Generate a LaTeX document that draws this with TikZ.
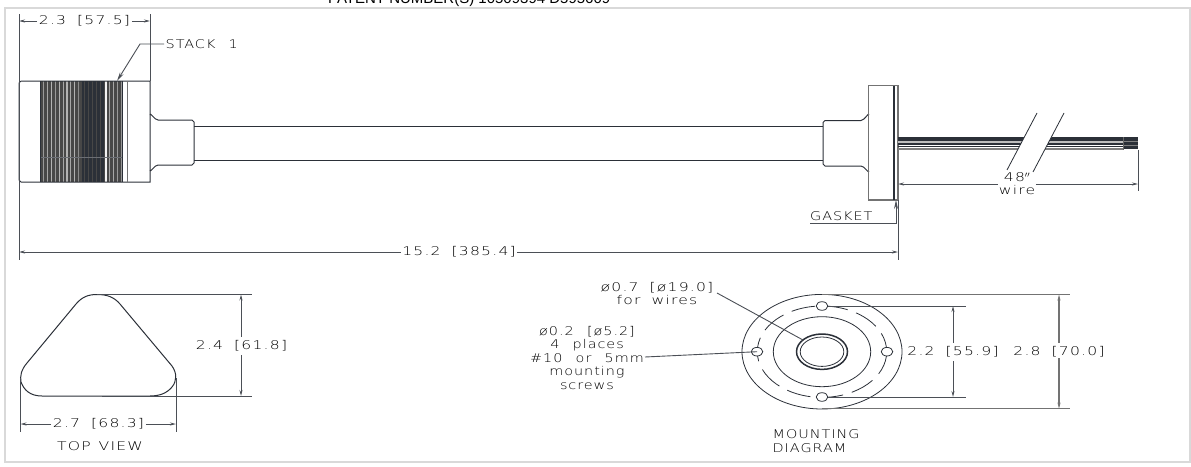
\documentclass[tikz,border=0pt]{standalone}
\usepackage{fontspec}
\setmainfont{Liberation Sans}
\newfontfamily\cadfont[FakeStretch=1.2,LetterSpace=8,WordSpace=2.4]{DejaVu Sans ExtraLight}
\newfontfamily\dimfont[FakeStretch=1.3,LetterSpace=10,WordSpace=1.8]{DejaVu Sans ExtraLight}
\usetikzlibrary{arrows.meta}
\definecolor{ink}{HTML}{2B3038}
\definecolor{framegray}{HTML}{D9D9D9}
\tikzset{
  tip/.tip={Stealth[length=6pt,width=3pt]},
  part/.style={draw=ink,line width=1pt},
  thin part/.style={draw=ink,line width=.8pt},
  greypart/.style={draw=black!55,line width=1.4pt},
  dim/.style={draw=ink!85,line width=.9pt},
  dimgrey/.style={draw=black!55,line width=1.4pt},
  cadlabel/.style={font=\cadfont\fontsize{12}{14}\selectfont,text=black,inner sep=1.5pt,align=center},
  dimlabel/.style={font=\dimfont\fontsize{12}{14}\selectfont,text=black,inner sep=1.5pt,align=center}
}

\begin{document}
\begin{tikzpicture}[x=1pt,y=-1pt]
    \useasboundingbox (0,0) rectangle (1191,466);

    % frame
    \draw[framegray,line width=1.5pt] (5,8) rectangle (1190,462);
    \begin{scope}
      \clip (0,0) rectangle (1191,7);
      \node[font=\fontsize{15}{17}\selectfont,text=black,inner sep=0pt,anchor=base west] (patent) at (328,3.5) {PATENT NUMBER(S) 10509394 D595609};
    \end{scope}

    % stack body
    \fill[black!72] (40.5,81) rectangle (122.5,182);
    \foreach \i/\shade in {0/40,1/35,2/30,3/40,4/30,5/35,6/30,7/35,8/30,9/45,10/10,11/5,12/5,13/5,14/5,15/5,16/5,17/35,18/35,19/40,20/40} {
      \fill[black!\shade] ({43+3.9*\i},81) rectangle ++(1.1,101);
    }
    \foreach \i in {0,...,5} {
      \fill[ink] ({81.5+3.9*\i},81) rectangle ++(2.6,101);
    }
    \draw[ink!70,line width=.5pt] (40.5,157.5) -- (122.5,157.5);
    \draw[part] (21,81) -- (150,81) -- (150,182) -- (21,182) to[out=180,in=90] (19,180) -- (19,83) to[out=-90,in=180] (21,81);
    \draw[part] (40.5,81) -- (40.5,182);
    \draw[part] (122.5,81) -- (122.5,182);
    \draw[greypart,line width=1pt] (127,81) -- (127,182);

    % tube with collars
    \draw[part] (150,115) to[out=90,in=180] (158,120) -- (192,120) to[out=0,in=-90] (194,122) -- (194,163) to[out=90,in=0] (192,165) -- (158,165) to[out=180,in=-90] (150,170);
    \draw[part] (194,126) -- (823,126);
    \draw[part] (194,160.5) -- (823,160.5);
    \draw[part] (869,115) to[out=90,in=0] (861,120.5) -- (825,120.5) to[out=180,in=-90] (823,122.5) -- (823,164) to[out=90,in=180] (825,166) -- (861,166) to[out=0,in=-90] (869,171);
    \draw[greypart] (868.5,85.5) rectangle (898,200);
    \draw[part,line width=1.4pt] (894,85.5) -- (894,200);
    \draw[dim] (898,200) -- (898,260);

    % wires
    \fill[ink] (898,136.7) rectangle (1123,141);
    \fill[black!25] (898,141) rectangle (1123,143);
    \fill[ink] (898,143.3) rectangle (1123,144.8);
    \fill[ink] (898,145.8) rectangle (1123,147.2);
    \fill[black!50] (898,147.8) rectangle (1123,149.7);
    \fill[ink] (1123,137) rectangle (1138,149);
    \fill[black!50] (1123,141) rectangle (1138,141.7);
    \fill[black!50] (1123,144.5) rectangle (1138,145.2);
    \draw[black!60,line width=1pt] (1123,137) -- (1123,149.7);

    % wire break
    \path (1037,113) coordinate (B1) (1007,170) coordinate (B2) (1064,113) coordinate (B3) (1033,172) coordinate (B4);
    \fill[white] (B1) -- (B3) -- (B4) -- (B2) -- cycle;
    \draw[thin part] (B1) -- (B2);
    \draw[thin part] (B3) -- (B4);

    % stack dimension
    \node[dimlabel] (stackwidth) at (84.5,21) {2.3 [57.5]};
    \draw[dim] (19,14) -- (19,260);
    \draw[dim] (150,14) -- (150,81);
    \coordinate (SL) at (19,21);
    \coordinate (SR) at (150,21);
    \draw[dim,-tip] (stackwidth) -- (SL);
    \draw[dim,-tip] (stackwidth) -- (SR);

    % stack leader
    \node[cadlabel,anchor=west] (stacklabel) at (164,44) {STACK 1};
    \coordinate (ST) at (117,81);
    \draw[dim,-{Stealth[length=9pt,width=4pt]}] (stacklabel.west) -- (140,44) -- (ST);

    % wire dimension
    \node[dimlabel,inner sep=.5pt] (wirelen) at (1017,184) {48$^{\prime\prime}$\\[-1pt]wire};
    \draw[dim] (1138,150) -- (1138,191);
    \coordinate (WL) at (898,184);
    \coordinate (WR) at (1138,184);
    \draw[dim,-tip] (wirelen) -- (WL);
    \draw[dim,-tip] (wirelen) -- (WR);

    % gasket
    \node[cadlabel,anchor=south west,inner sep=0pt] (gasket) at (810,221) {GASKET};
    \coordinate (GT) at (896,200);
    \draw[dim,-{Stealth[length=9pt,width=4pt]}] (gasket.south west) ++(0,2) -- (896,223) -- (GT);

    % overall dimension
    \node[dimlabel] (overall) at (459,252) {15.2 [385.4]};
    \coordinate (OL) at (19,252);
    \coordinate (OR) at (898,252);
    \draw[dim,-tip] (overall) -- (OL);
    \draw[dim,-tip] (overall) -- (OR);

    % top view
    \draw[part] (97,294.5) .. controls (107,294.5) and (114,297) .. (120,304)
      -- (172,366) .. controls (177,373) and (177,381) .. (172,387)
      .. controls (167,393) and (160,396) .. (150,396) -- (42,396)
      .. controls (30,396) and (24,390) .. (21,382)
      .. controls (20,376) and (21,370) .. (27,363)
      -- (76,304) .. controls (82,297) and (88,294.5) .. (97,294.5) -- cycle;
    \draw[dim] (97,294.5) -- (252,294.5);
    \draw[dim] (102,396) -- (252,396);
    \draw[dim] (20.5,378) -- (20.5,432);
    \draw[dim] (176,378) -- (176,432);
    \node[dimlabel] (topheight) at (241.5,346) {2.4 [61.8]};
    \coordinate (HT) at (241,294.5);
    \coordinate (HB) at (241,396);
    \draw[dim,tip-] (HT) -- (241,337);
    \draw[dim,tip-] (HB) -- (241,355);
    \node[dimlabel] (topwidth) at (98.5,424) {2.7 [68.3]};
    \coordinate (WDL) at (20.5,424);
    \coordinate (WDR) at (176,424);
    \draw[dim,-tip] (topwidth) -- (WDL);
    \draw[dim,-tip] (topwidth) -- (WDR);
    \node[cadlabel,font=\dimfont\fontsize{12}{14}\selectfont] (topview) at (100,446) {TOP\hspace{8pt}VIEW};

    % mounting diagram
    \coordinate (C) at (822,351.7);
    \draw[thin part] (C) ellipse [x radius=80,y radius=57.3];
    \draw[thin part,dash pattern=on 24pt off 9pt] (C) ellipse [x radius=64.7,y radius=45.7];
    \draw[thin part] (C) ellipse [x radius=48.7,y radius=35];
    \draw[part,line width=1.5pt] (C) ellipse [x radius=25.5,y radius=17.7];
    \draw[thin part] (C) ellipse [x radius=21.8,y radius=14.7];
    \foreach \name/\hx/\hy in {HL/757/351.7,HR/887/351.7,HU/822/306,HD/822/397} {
      \draw[thin part,fill=white] (\hx,\hy) ellipse [x radius=5.8,y radius=4.3];
      \coordinate (\name) at (\hx,\hy);
    }

    % mounting leaders
    \node[dimlabel] (wireslabel) at (657,294) {\o0.7 [\o19.0]\\[-1pt]for wires};
    \node[cadlabel] (screwlabel) at (587,358) {\o0.2 [\o5.2]\\[-.5pt]4 places\\[-.5pt]\#10 or 5mm\\[-.5pt]mounting\\[-.5pt]screws};
    \coordinate (WH) at (803,340);
    \draw[dim] (717,293) -- (WH);
    \draw[dim] (645,357) -- (HL);

    % mounting dimensions
    \draw[dimgrey] (822,294.5) -- (1070,294.5);
    \draw[dimgrey] (822,408.7) -- (1070,408.7);
    \draw[dim] (HU) ++(6,0) -- (966,306);
    \draw[dim] (HD) ++(6,0) -- (966,397);
    \node[dimlabel] (boltsize) at (953,352) {2.2 [55.9]};
    \node[dimlabel] (platesize) at (1059,352) {2.8 [70.0]};
    \draw[dim,tip-] (953,306) -- (953,343);
    \draw[dim,tip-] (953,397) -- (953,361);
    \draw[dimgrey,tip-] (1059,294.5) -- (1059,343);
    \draw[dimgrey,tip-] (1059,408.7) -- (1059,358);
    \node[cadlabel,align=left,anchor=north west] (mountlabel) at (771,428) {MOUNTING\\[-.5pt]DIAGRAM};
\end{tikzpicture}
\end{document}
